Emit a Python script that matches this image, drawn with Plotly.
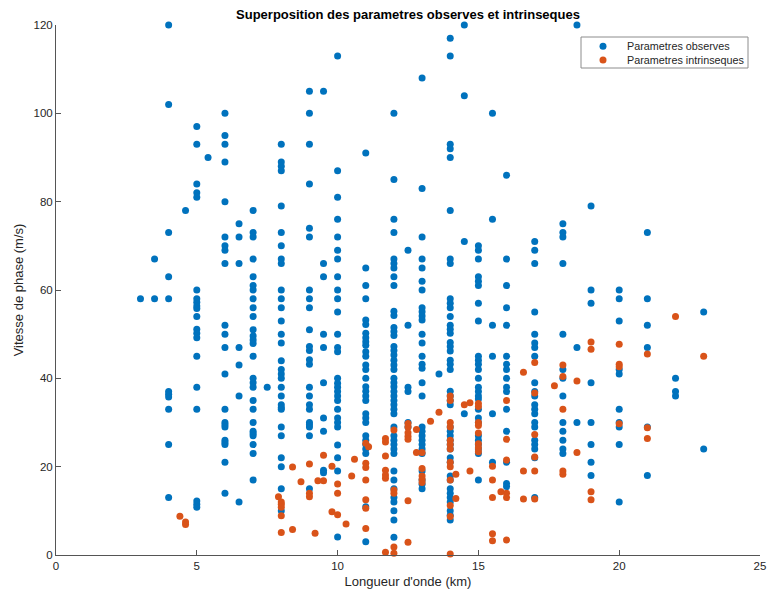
import plotly.graph_objects as go

# ---- Parametres observes (blue) : longueur d'onde (km), vitesse de phase (m/s)
obs_lambda = (
    [3] + [3.5] * 2 + [4] * 11 + [4.6] + [5] * 20 + [5.4] + [6] * 22 + [6.5] * 7 + [7] * 27 + [7.5]
    + [8] * 30 + [9] * 23 + [9.5] * 10 + [10] * 28 + [11] * 29 + [12] * 43 + [12.5] * 6
    + [13] * 29 + [13.6] + [14] * 42 + [14.5] * 4 + [15] * 26 + [15.5] * 6 + [16] * 16
    + [17] * 21 + [18] * 13 + [18.5] * 3 + [19] * 8 + [20] * 10 + [21] * 6 + [22] * 3 + [23] * 2
)
obs_speed = (
    [58]
    + [67, 58]
    + [120, 102, 73, 63, 58, 37, 36.4, 35.8, 33, 25, 13]
    + [78]
    + [97, 93, 84, 82, 81, 60, 58, 57.2, 56.4, 55.8, 54, 51.1, 50.2, 49.2, 45, 38, 33, 12.2, 11.5, 10.8]
    + [90]
    + [100, 95, 93, 89, 80, 72, 70, 69, 66, 52, 50, 47, 41, 33, 30, 29.5, 29, 26, 25.5, 25, 21, 14]
    + [75, 72, 66, 47, 43, 36, 12]
    + [78, 73, 72, 67, 63, 61, 60, 58, 56, 54, 51, 49.6, 48.7, 47.9, 45, 40, 39, 38, 35, 33, 30, 28,
       27.5, 27, 25, 23, 17]
    + [38]
    + [93, 89, 88, 87, 79, 73, 70, 67, 66, 60, 58, 56, 53, 50, 48, 44, 42, 41, 40, 38, 36, 34, 33.4,
       33, 29, 27, 22, 20, 15, 10]
    + [105, 100, 93, 84, 74, 72, 60, 58, 56, 51, 47.2, 46.3, 44.2, 43.2, 38, 36, 34, 33, 30, 29.5, 29,
       27, 15]
    + [105, 66, 63, 50, 47, 39, 31, 28, 19.2, 18.6]
    + [113, 87, 81, 76, 72, 69, 67, 63, 60, 58, 55, 50, 47, 46, 40, 38.9, 38, 37, 36, 35, 33, 31, 30,
       29, 24.9, 22, 19, 4.1]
    + [91, 65, 61, 58, 53.2, 52.2, 50.2, 49.2, 48.3, 47.5, 46, 45, 43, 42, 40, 38.1, 37.1, 36, 35, 32,
       31, 30, 27, 26, 25, 24, 23, 10.9, 3]
    + [100, 85, 76, 73, 67, 66, 65, 63, 61, 55.2, 54.2, 51.5, 50.6, 49.7, 47.2, 46.3, 45.3, 44.1, 43,
       42, 40, 39, 38.1, 37, 36, 35, 34, 33, 32, 29, 27, 26, 25, 24, 23, 19, 17, 15, 13, 12, 10, 7.9, 4]
    + [69, 52, 38, 37, 30, 29]
    + [108, 83, 72, 67, 65, 62, 60, 56, 55.1, 54.1, 53.2, 50, 48, 45, 43.2, 42.3, 39, 36, 29, 28, 27,
       26, 25, 24, 23, 19, 17, 16, 15]
    + [41]
    + [117, 113, 93, 92, 90, 78, 67, 66, 58, 57, 56, 54, 52, 51.1, 50.2, 48.1, 47.2, 46.2, 44.1, 43.2,
       42, 37.1, 36, 35, 34, 29, 28, 27, 26, 25, 24, 22, 21, 17.9, 17, 15, 14, 13, 12, 10, 9, 7.9]
    + [120, 104, 71, 32]
    + [70, 69, 67, 63, 62, 61, 57, 53, 45, 44.1, 43.2, 42, 40, 38, 37, 36, 35.3, 33, 31, 30, 27, 26,
       25, 24, 23, 17]
    + [100, 76, 52, 45, 32, 21]
    + [86, 67, 61, 56, 52, 45, 43.2, 42, 40, 38, 37, 33, 28, 21, 16.2, 15.5]
    + [71, 69, 66, 55, 50, 48, 47, 45, 39, 37, 36, 34, 33, 32, 30, 29, 26, 25, 24, 22, 13]
    + [75, 73, 72, 66, 50, 42, 40, 36, 30, 28, 26, 24, 23]
    + [120, 47, 30]
    + [79, 60, 57, 39, 30, 25, 21, 18]
    + [60, 58, 53, 42, 41, 33, 30, 29, 25, 12]
    + [73, 58, 52, 47, 29, 18]
    + [40, 37, 36]
    + [55, 24]
)

# ---- Parametres intrinseques (orange)
intr_lambda = [
    4.4, 4.6, 4.6,
    7.9, 8, 8, 8, 8, 8,
    8.4, 8.4, 8.7, 9, 9, 9, 9.2, 9.3, 9.5, 9.5, 9.8, 9.8, 10, 10, 10, 10.3, 10.5, 10.6,
    11, 11, 11, 11, 11, 11, 11, 11.1,
    11.7, 11.7, 11.7, 11.7, 11.7, 11.7, 11.7,
    12, 12, 12, 12, 12,
    12.5, 12.5, 12.5, 12.5, 12.5, 12.5, 12.5,
    12.8, 12.8, 13, 13, 13, 13, 13, 13.3, 13.6,
    14, 14, 14, 14, 14, 14, 14, 14, 14, 14, 14, 14, 14,
    14.2, 14.2, 14.5, 14.7, 14.7,
    15, 15, 15, 15, 15, 15, 15, 15,
    15.5, 15.5, 15.5, 15.5, 15.5, 15.8,
    16, 16, 16, 16, 16, 16,
    16.6, 16.6, 16.6,
    17, 17, 17, 17, 17, 17,
    17.7, 18, 18, 18, 18, 18, 18.5, 18.5,
    19, 19, 19, 19,
    20, 20, 20, 20,
    21, 21, 21,
    22, 23,
]
intr_speed = [
    8.8, 7.5, 6.9,
    13.2, 12, 11.5, 10.8, 8.9, 5.1,
    19.9, 5.8, 16.6, 20.6, 14, 13.2, 4.9, 16.8, 16.8, 22.6, 20.1, 9.8, 16.1, 14, 9.1, 7.0, 17.9, 21.7,
    25.3, 20.8, 19.8, 17, 12.5, 10.6, 6.0, 24.5,
    26.4, 25.6, 22.4, 19.2, 18.1, 17.4, 0.6,
    28.3, 14.7, 14, 1.8, 0.4,
    29.8, 29, 27.7, 26.9, 26.2, 12.3, 2.9,
    28.4, 23.2, 23.2, 19.6, 17.9, 17.1, 16.4, 30.3, 32.3,
    36, 35, 30, 29, 26, 25, 24, 21, 20, 17, 11.2, 8.7, 0.2,
    18.3, 12.8, 34, 34.5, 19,
    34.3, 33.6, 30, 29.3, 27.6, 25.2, 24.3, 23.4,
    20.1, 17, 13, 4.8, 3.2, 14.3,
    35, 26.2, 21.5, 14, 13, 3.4,
    41.4, 19, 12.7,
    43.6, 36.7, 27.3, 22.2, 19, 12.7,
    38.3, 43, 40.4, 33, 19, 18.3, 39.4, 23.2,
    48.2, 46.6, 14.3, 12.5,
    47.7, 43.2, 42.6, 29.7,
    45.5, 28.8, 26.4,
    54, 45,
]

series_names = ["Parametres observes", "Parametres intrinseques"]
x_ticks = [0, 5, 10, 15, 20, 25]
y_ticks = [0, 20, 40, 60, 80, 100, 120]

BLUE = "#0072BD"
ORANGE = "#D95319"
FONT = "Liberation Sans, Arial, Helvetica, sans-serif"
AXIS = "#555555"
TXT = "#262626"

FIG_W, FIG_H = 767, 594

fig = go.Figure()
fig.add_trace(go.Scatter(
    x=obs_lambda, y=obs_speed, mode="markers", name=series_names[0],
    marker=dict(color=BLUE, size=7, line=dict(width=0)),
    cliponaxis=False, showlegend=False,
))
fig.add_trace(go.Scatter(
    x=intr_lambda, y=intr_speed, mode="markers", name=series_names[1],
    marker=dict(color=ORANGE, size=7, line=dict(width=0)),
    cliponaxis=False, showlegend=False,
))

# Compact legend box (MATLAB style) drawn in paper coordinates
PW, PH = 704.0, 530.0   # plot area size in px
def px_x(p):  # px right of plot left -> paper
    return p / PW
def px_y(p):  # px below plot top -> paper
    return 1 - p / PH

leg_left, leg_right, leg_top, leg_bot = 525, 692, 12, 43
row_y = [21.3, 35.0]
sym_x = 547
txt_x = 569

shapes = [dict(type="rect", xref="paper", yref="paper",
               x0=px_x(leg_left), x1=px_x(leg_right), y0=px_y(leg_bot), y1=px_y(leg_top),
               line=dict(color="#8c8c8c", width=1), fillcolor="white", layer="above")]
annotations = []
for name, col, ry in zip(series_names, [BLUE, ORANGE], row_y):
    shapes.append(dict(type="circle", xref="paper", yref="paper",
                       xsizemode="pixel", ysizemode="pixel",
                       xanchor=px_x(sym_x), yanchor=px_y(ry),
                       x0=-3.5, x1=3.5, y0=-3.5, y1=3.5,
                       line=dict(width=0), fillcolor=col, layer="above"))
    annotations.append(dict(xref="paper", yref="paper", x=px_x(txt_x), y=px_y(ry),
                            xanchor="left", yanchor="middle", showarrow=False,
                            text=name, font=dict(family=FONT, size=10.8, color=TXT)))

fig.update_layout(
    width=FIG_W, height=FIG_H,
    margin=dict(l=56, r=7, t=25, b=39, autoexpand=False),
    paper_bgcolor="white", plot_bgcolor="white",
    font=dict(family=FONT, size=11, color=TXT),
    title=dict(
        text="<b>Superposition des parametres observes et intrinseques</b>",
        font=dict(family=FONT, size=13, color="black"),
        x=0.5, xref="paper", xanchor="center",
        y=1 - 14.5 / FIG_H, yref="container", yanchor="middle",
        automargin=False,
    ),
    showlegend=False,
    shapes=shapes,
    annotations=annotations,
    xaxis=dict(
        range=[0, 25], tickvals=x_ticks, ticktext=[str(v) for v in x_ticks],
        showgrid=False, zeroline=False, showline=True, linecolor=AXIS, linewidth=1,
        ticks="inside", ticklen=5, tickcolor=AXIS, mirror=False, automargin=False,
        ticklabeloverflow="allow",
        tickfont=dict(family=FONT, size=11.5, color=TXT),
        title=dict(text="Longueur d'onde (km)", standoff=6,
                   font=dict(family=FONT, size=13, color=TXT)),
    ),
    yaxis=dict(
        range=[0, 120], tickvals=y_ticks, ticktext=[str(v) for v in y_ticks],
        showgrid=False, zeroline=False, showline=True, linecolor=AXIS, linewidth=1,
        ticks="inside", ticklen=5, tickcolor=AXIS, mirror=False, automargin=False,
        ticklabeloverflow="allow",
        tickfont=dict(family=FONT, size=11.5, color=TXT),
        title=dict(text="Vitesse de phase (m/s)", standoff=6,
                   font=dict(family=FONT, size=13, color=TXT)),
    ),
)

assert len(obs_lambda) == len(obs_speed), (len(obs_lambda), len(obs_speed))
assert len(intr_lambda) == len(intr_speed), (len(intr_lambda), len(intr_speed))

# remove the default 8px page margin so the figure fills the window exactly; hide the modebar
fig.write_html(
    "out.html",
    config={"displayModeBar": False, "staticPlot": True},
    post_script="document.body.style.margin='0';document.body.style.overflow='hidden';",
)
